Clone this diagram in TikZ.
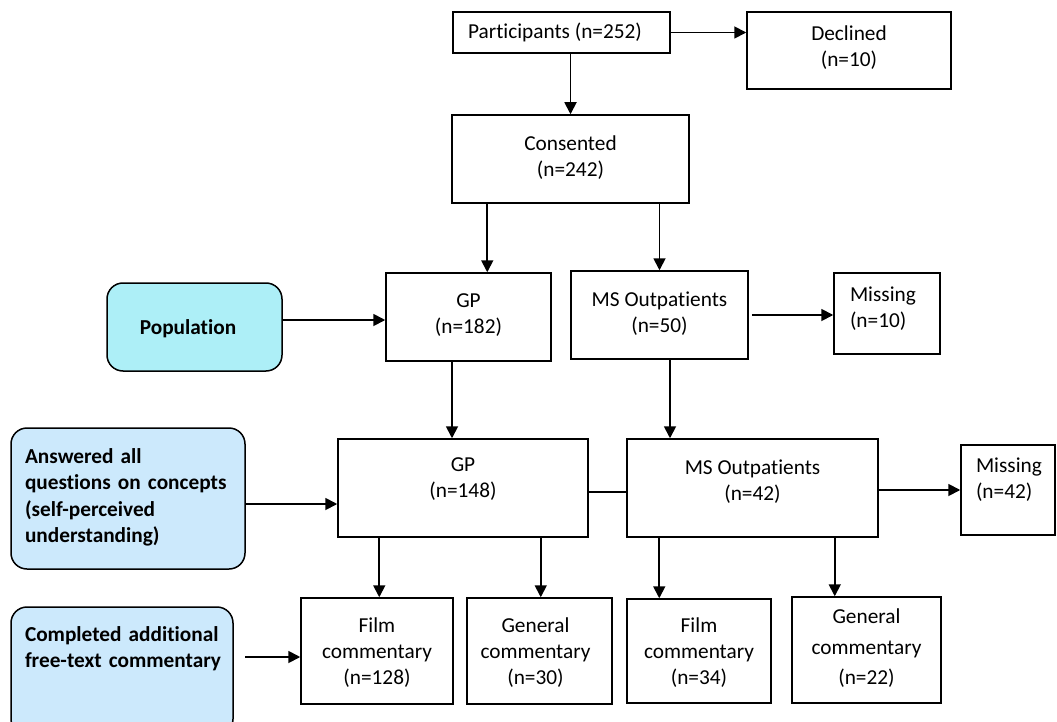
\documentclass[tikz,border=0pt]{standalone}
\usepackage{fontspec}
\setmainfont{Carlito}[Ligatures=NoCommon]
\usetikzlibrary{arrows.meta}
\definecolor{popfill}{RGB}{173,239,247}
\definecolor{ansfill}{RGB}{204,233,252}
\tikzset{
  box/.style={draw=black, line width=1.5pt, inner sep=0pt, fill=white},
  grp/.style={draw=black, line width=1.5pt, inner sep=0pt, rounded corners=16pt},
  txt/.style={inner sep=0pt, align=center, font=\fontsize{21.3pt}{26pt}\selectfont},
  ltxt/.style={inner sep=0pt, align=left, font=\fontsize{21.3pt}{26pt}\selectfont},
  btxt/.style={inner sep=0pt, align=left, font=\fontsize{21.3pt}{26.5pt}\selectfont\bfseries},
  arr/.style={line width=1.8pt, -{Triangle[length=12pt,width=12pt]}},
  link/.style={line width=1.8pt},
}
\begin{document}
\begin{tikzpicture}[x=1pt, y=-1pt]
\clip (0,0) rectangle (1057,722);

% --- top of the flow
\node[box, minimum width=217pt, minimum height=41pt,
  label={[txt, xshift=-6.5pt]center:Participants (n=252)}] (part) at (561.5,32.5) {};
\node[box, minimum width=204pt, minimum height=77pt,
  label={[txt, yshift=3pt]center:{Declined\\(n=10)}}] (decl) at (849,50.5) {};
\node[box, minimum width=237pt, minimum height=88pt,
  label={[txt, yshift=1pt]center:{Consented\\(n=242)}}] (cons) at (570.5,159) {};

% --- recruitment setting
\node[box, minimum width=165pt, minimum height=88pt,
  label={[txt, yshift=2pt]center:{GP\\(n=182)}}] (gp1) at (468.5,317) {};
\node[box, minimum width=177pt, minimum height=88pt,
  label={[txt, yshift=1.5pt]center:{MS Outpatients\\(n=50)}}] (ms1) at (659.5,315) {};
\node[box, minimum width=106pt, minimum height=81pt,
  label={[ltxt, text width=80pt, xshift=3pt, yshift=4.5pt]center:{Missing\\(n=10)}}] (miss1) at (887,313.5) {};

% --- complete answers
\node[box, minimum width=250pt, minimum height=98pt,
  label={[txt, yshift=9pt]center:{GP\\(n=148)}}] (gp2) at (463,488) {};
\node[box, minimum width=251pt, minimum height=98pt,
  label={[txt, yshift=6.5pt]center:{MS Outpatients\\(n=42)}}] (ms2) at (752.5,488) {};
\node[box, minimum width=94pt, minimum height=90pt,
  label={[ltxt, text width=70pt, xshift=3pt, yshift=10pt]center:{Missing\\(n=42)}}] (miss2) at (1008,490) {};

% --- free-text commentary
\node[box, minimum width=152pt, minimum height=106pt,
  label={[txt, yshift=-1.5pt]center:{Film\\commentary\\(n=128)}}] (film1) at (377,651) {};
\node[box, minimum width=145pt, minimum height=106pt,
  label={[txt, xshift=-4pt, yshift=-1.5pt]center:{General\\commentary\\(n=30)}}] (gen1) at (539.5,651) {};
\node[box, minimum width=144pt, minimum height=104pt,
  label={[txt, yshift=-2pt]center:{Film\\commentary\\(n=34)}}] (film2) at (699,651) {};
\node[box, minimum width=149pt, minimum height=106pt,
  label={[txt, font=\fontsize{21.3pt}{30.5pt}\selectfont, yshift=1.5pt]center:{General\\commentary\\(n=22)}}] (gen2) at (866.5,650) {};

% --- stage captions on the left
\node[grp, fill=popfill, minimum width=175pt, minimum height=88pt,
  label={[btxt, xshift=-6.5pt, yshift=-2pt]center:Population}] (pop) at (194.5,327) {};
\node[grp, fill=ansfill, minimum width=234pt, minimum height=141pt,
  label={[btxt, text width=210pt, xshift=2pt, yshift=1pt]center:{Answered all\\questions on concepts\\(self-perceived\\understanding)}}] (ans) at (128,498.5) {};
\node[grp, fill=ansfill, minimum width=222pt, minimum height=128pt,
  label={[btxt, text width=210pt, xshift=8pt, yshift=22.5pt]center:{Completed additional\\free-text commentary}}] (comp) at (122,671) {};

% --- connectors
\draw[arr] (part.east) -- (part.east -| decl.west);
\draw[arr] (part.south -| cons.north) -- (cons.north);
\draw[arr] ([xshift=36pt]cons.south west) -- ([xshift=36pt]cons.south west |- gp1.north);
\draw[arr] (cons.south -| ms1.north) -- (ms1.north);
\draw[arr] ([yshift=7pt]pop.east) -- ([yshift=7pt]pop.east -| gp1.west);
\draw[arr] ([xshift=3pt]ms1.east) -- (ms1.east -| miss1.west);
\draw[arr] ([xshift=-16.5pt]gp1.south) -- ([xshift=-16.5pt]gp1.south |- gp2.north);
\draw[arr] ([xshift=10.5pt]ms1.south) -- ([xshift=10.5pt]ms1.south |- ms2.north);
\draw[arr] ([yshift=-5.5pt]ans.east) -- ([yshift=-5.5pt]ans.east -| gp2.west);
\draw[link] ([yshift=-4pt]gp2.east) -- ([yshift=-4pt]gp2.east -| ms2.west);
\draw[arr] ([yshift=-2pt]ms2.east) -- ([yshift=-2pt]ms2.east -| miss2.west);
\draw[arr] ([xshift=42pt]gp2.south west) -- ([xshift=42pt]gp2.south west |- film1.north);
\draw[arr] ([xshift=-48pt]gp2.south east) -- ([xshift=-48pt]gp2.south east |- gen1.north);
\draw[arr] ([xshift=33pt]ms2.south west) -- ([xshift=33pt]ms2.south west |- film2.north);
\draw[arr] ([xshift=-44pt]ms2.south east) -- ([xshift=-44pt]ms2.south east |- gen2.north);
\coordinate (cfree) at (245,657);
\draw[arr] (cfree) -- (cfree -| film1.west);
\end{tikzpicture}
\end{document}
